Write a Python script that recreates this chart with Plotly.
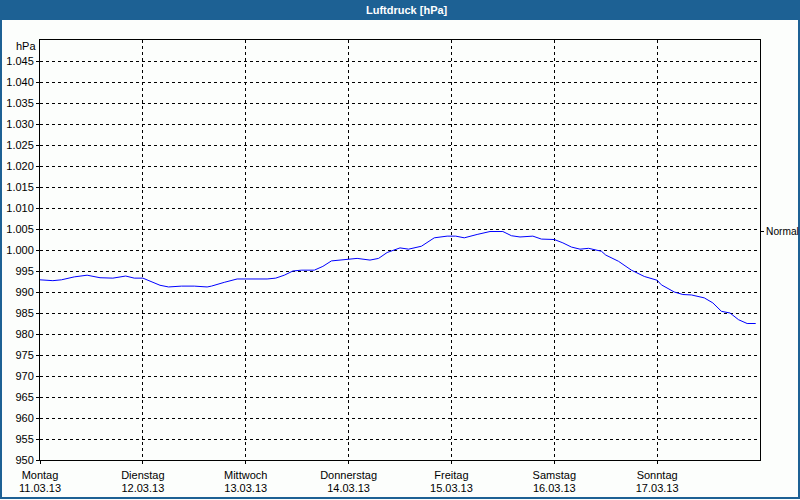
import pandas as pd
import plotly.graph_objects as go

# Stunden ab Montag 11.03.13 00:00 und Luftdruck in hPa
hours = [0, 3, 5, 8, 11, 14, 17, 20, 22, 24, 28, 30, 33, 36, 39, 40, 43, 46,
         48, 53, 55, 57, 59, 61, 64, 66, 68, 70, 72, 74, 77, 79, 81, 84, 86,
         89, 92, 95, 97, 99, 102, 105, 108, 110, 112, 115, 117, 120, 122, 124,
         126, 128, 131, 132, 135, 138, 141, 144, 145, 148, 150, 152, 155, 157,
         159, 161, 163, 165, 167]
pressure = [992.9, 992.7, 992.9, 993.6, 994.0, 993.4, 993.3, 993.8, 993.3,
            993.3, 991.6, 991.2, 991.4, 991.4, 991.2, 991.4, 992.3, 993.1,
            993.1, 993.1, 993.3, 994.0, 995.0, 995.2, 995.2, 996.1, 997.4,
            997.6, 997.9, 998.0, 997.6, 998.0, 999.4, 1000.5, 1000.2, 1000.9,
            1002.9, 1003.3, 1003.3, 1002.9, 1003.7, 1004.4, 1004.4, 1003.4,
            1003.1, 1003.3, 1002.6, 1002.5, 1001.7, 1000.7, 1000.2, 1000.4,
            999.7, 998.8, 997.3, 995.2, 993.7, 992.8, 991.7, 990.0, 989.4,
            989.3, 988.6, 987.4, 985.4, 985.0, 983.4, 982.5, 982.5]

day_dates = ["2013-03-11", "2013-03-12", "2013-03-13", "2013-03-14",
             "2013-03-15", "2013-03-16", "2013-03-17"]
day_names = ["Montag", "Dienstag", "Mittwoch", "Donnerstag", "Freitag",
             "Samstag", "Sonntag"]
day_texts = ["11.03.13", "12.03.13", "13.03.13", "14.03.13", "15.03.13",
             "16.03.13", "17.03.13"]
y_ticks = list(range(950, 1050, 5))
normal_value = 1004.4

times = pd.Timestamp("2013-03-11") + pd.to_timedelta(hours, unit="h")

fig = go.Figure()
fig.add_trace(go.Scatter(x=times, y=pressure, mode="lines",
                         line=dict(color="#0000ff", width=1),
                         hoverinfo="x+y", showlegend=False))
# unsichtbare Spur fuer die Zusatzachsen (Datum unten, "Normal" rechts)
fig.add_trace(go.Scatter(x=[times[0]], y=[normal_value], xaxis="x2", yaxis="y2",
                         mode="markers", marker=dict(opacity=0),
                         hoverinfo="skip", showlegend=False))

L, R, T, B = 40, 40, 40, 40
W, H = 800, 500
pw, ph = W - L - R, H - T - B

def px(x):
    return (x - L) / pw

def py(y):
    return 1 - (y - T) / ph

grid = dict(showgrid=True, gridcolor="black", gridwidth=1, griddash="3px,3px")
x_range = ["2013-03-11", "2013-03-18"]

fig.update_layout(
    width=W, height=H,
    margin=dict(l=L, r=R, t=T, b=B, autoexpand=False),
    paper_bgcolor="#fcfefc",
    plot_bgcolor="#fcfefc",
    font=dict(family="Liberation Sans, Arial, sans-serif", size=11, color="black"),
    separators=",.",
    xaxis=dict(
        range=x_range, automargin=False,
        tickvals=day_dates, ticktext=day_names,
        showline=True, linecolor="black", linewidth=1, mirror=True,
        ticks="outside", ticklen=3, tickcolor="black", ticklabelstandoff=2,
        zeroline=False, **grid,
    ),
    xaxis2=dict(
        range=x_range, overlaying="x", side="bottom", automargin=False,
        tickvals=day_dates, ticktext=day_texts,
        ticks="", ticklabelstandoff=20,
        showgrid=False, zeroline=False, showline=False,
    ),
    yaxis=dict(
        range=[950, 1050], automargin=False,
        tickvals=y_ticks, separatethousands=True, tickformat=",d",
        showline=True, linecolor="black", linewidth=1, mirror=True,
        ticks="outside", ticklen=3, tickcolor="black", zeroline=False, **grid,
    ),
    yaxis2=dict(
        range=[950, 1050], overlaying="y", side="right", automargin=False,
        tickvals=[normal_value], ticktext=["Normal"], tickfont=dict(size=10.2),
        ticks="outside", ticklen=3, tickcolor="black",
        showgrid=False, zeroline=False, showline=False,
    ),
    shapes=[
        # Titelleiste
        dict(type="rect", xref="paper", yref="paper",
             x0=px(0), x1=px(W), y0=py(20), y1=py(0),
             fillcolor="#1d6194", line=dict(width=0), layer="below"),
        # Fensterrahmen
        dict(type="rect", xref="paper", yref="paper",
             x0=px(1), x1=px(W - 1), y0=py(H - 2), y1=py(0),
             fillcolor="rgba(0,0,0,0)", line=dict(color="#1d6194", width=2),
             layer="below"),
    ],
    annotations=[
        dict(text="<b>Luftdruck [hPa]</b>", xref="paper", yref="paper",
             x=px(407), y=py(10), xanchor="center", yanchor="middle",
             showarrow=False, font=dict(color="white", size=11)),
        dict(text="hPa", xref="paper", yref="paper",
             x=px(38), y=py(46), xanchor="right", yanchor="middle",
             showarrow=False),
    ],
)

# Seitenrand entfernen, damit die Grafik genau im Fenster liegt
fig.write_html("out.html", config={"displayModeBar": False},
               post_script="document.body.style.margin='0px';")
